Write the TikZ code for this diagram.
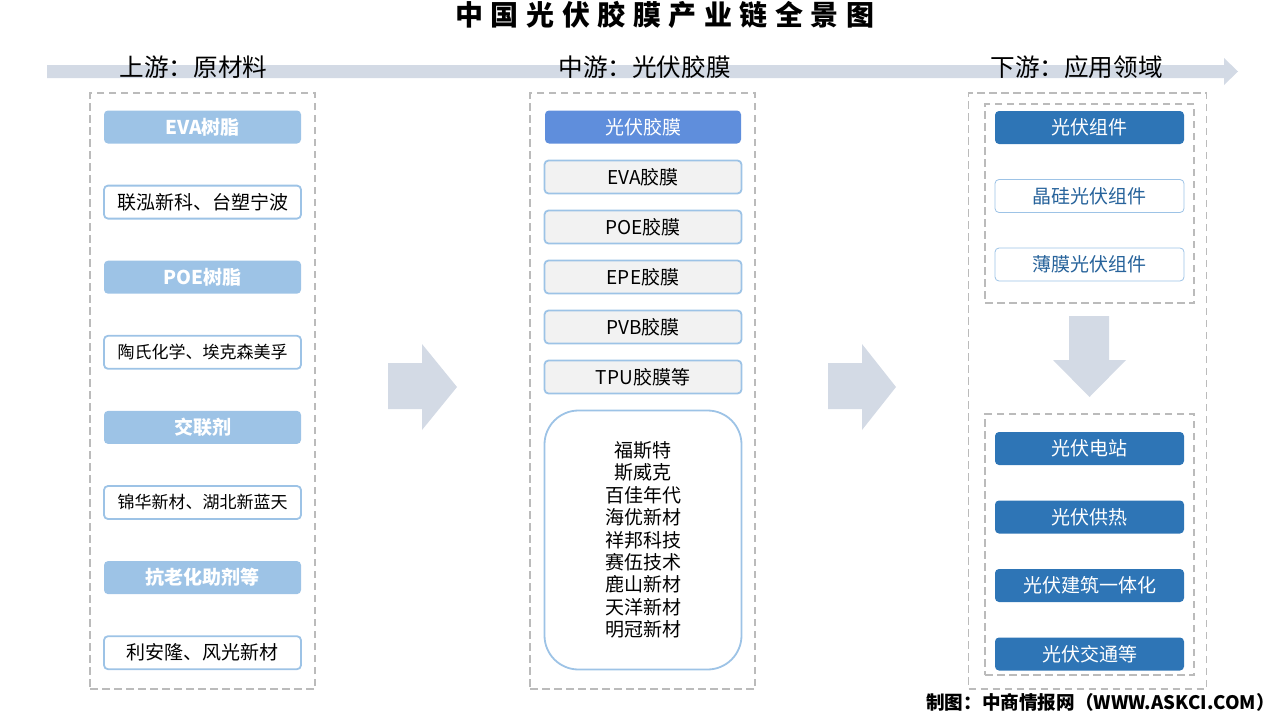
\documentclass[tikz,border=0pt]{standalone}
\usepackage{fontspec}
\setmainfont{Noto Sans CJK SC}
\newfontfamily\titlefont[LetterSpace=27]{Noto Sans CJK SC}
\usetikzlibrary{shapes,arrows,positioning}
\definecolor{BarGray}{HTML}{D3DAE5}
\definecolor{DashGray}{HTML}{BBBBBB}
\definecolor{LightBlue}{HTML}{9DC3E6}
\definecolor{MidBlue}{HTML}{5F8EDC}
\definecolor{DarkBlue}{HTML}{2E75B6}
\definecolor{SoftGray}{HTML}{F2F2F2}
\definecolor{EdgeBlue}{HTML}{9DC3E6}
\tikzstyle{Base} = [rectangle, rounded corners=4pt, inner sep=0pt, outer sep=0pt, font=\fontsize{19}{22.4}\selectfont]
\tikzstyle{Head} = [Base, fill=LightBlue, text=white, minimum width=197pt, minimum height=33pt, font=\fontsize{19}{22}\selectfont\bfseries]
\tikzstyle{Firm} = [Base, draw=EdgeBlue, line width=1.8pt, fill=white, minimum width=197pt, minimum height=33pt]
\tikzstyle{Film} = [Firm, fill=SoftGray]
\tikzstyle{Top}  = [Base, fill=MidBlue, text=white, minimum width=196pt, minimum height=33pt]
\tikzstyle{Use}  = [Base, fill=DarkBlue, text=white, minimum width=189pt, minimum height=33pt]
\tikzstyle{Kind} = [Base, draw=EdgeBlue, line width=.8pt, fill=white, text=DarkBlue!85!black, minimum width=189pt, minimum height=33pt]
\tikzstyle{Zone} = [rectangle, draw=DashGray, line width=1.4pt, dash pattern=on 7.5pt off 4.5pt, inner sep=0pt, outer sep=0pt]
\tikzstyle{Stage} = [inner sep=0pt, font=\fontsize{24.6}{28}\selectfont]

\begin{document}
\begin{tikzpicture}[x=1pt,y=-1pt]
    \useasboundingbox (0,0) rectangle (1280,720);
    % backdrop arrow
    \fill[BarGray] (47,65) -- (1224,65) -- (1224,58) -- (1238,71.5) -- (1224,85) -- (1224,78) -- (47,78) -- cycle;
    \node[font=\fontsize{28}{32}\selectfont\bfseries\titlefont, inner sep=0pt] (title) at (665,15) {中国光伏胶膜产业链全景图};
    \node[Stage] (upstage)   at (193.5,67.5) {上游^^^^ff1a原材料};
    \node[Stage] (midstage)  at (644.5,67.5) {中游^^^^ff1a光伏胶膜};
    \node[Stage] (downstage) at (1076.5,67.5) {下游^^^^ff1a应用领域};

    % dashed frames
    \node[Zone, minimum width=225pt, minimum height=596pt] (upzone)   at (202.5,391) {};
    \node[Zone, minimum width=225pt, minimum height=596pt] (midzone)  at (642.5,391) {};
    \node[Zone, minimum width=238pt, minimum height=596pt] (downzone) at (1087.5,391) {};
    \node[Zone, minimum width=209pt, minimum height=199pt] (modzone)  at (1089.5,203.5) {};
    \node[Zone, minimum width=209pt, minimum height=261pt] (sitezone) at (1089.5,544.5) {};

    % upstream
    \node[Head] (eva)       at (202.5,127)       {EVA树脂};
    \node[Firm] (evafirm)   [below=42.1pt of eva]     {联泓新科、台塑宁波};
    \node[Head] (poe)       [below=42.1pt of evafirm] {POE树脂};
    \node[Firm, font=\fontsize{17}{20}\selectfont] (poefirm)   [below=42.1pt of poe]     {陶氏化学、埃克森美孚};
    \node[Head] (cross)     [below=42.1pt of poefirm] {交联剂};
    \node[Firm, font=\fontsize{17}{20}\selectfont] (crossfirm) [below=42.1pt of cross]   {锦华新材、湖北新蓝天};
    \node[Head] (aging)     [below=42.1pt of crossfirm] {抗老化助剂等};
    \node[Firm] (agingfirm) [below=42.1pt of aging]   {利安隆、风光新材};

    % midstream
    \node[Top]  (film)  at (643,127)        {光伏胶膜};
    \node[Film] (evaf)  [below=17pt of film] {EVA胶膜};
    \node[Film] (poef)  [below=17pt of evaf] {POE胶膜};
    \node[Film] (epef)  [below=17pt of poef] {EPE胶膜};
    \node[Film] (pvbf)  [below=17pt of epef] {PVB胶膜};
    \node[Film] (tpuf)  [below=17pt of pvbf] {TPU胶膜等};
    \node[Firm, rounded corners=34pt, minimum height=259pt, align=center, font=\fontsize{19}{22.4}\selectfont] (makers) [below=17pt of tpuf]
        {福斯特\\斯威克\\百佳年代\\海优新材\\祥邦科技\\赛伍技术\\鹿山新材\\天洋新材\\明冠新材};

    % downstream
    \node[Use]  (module) at (1089.5,127.5)       {光伏组件};
    \node[Kind] (csi)    [below=35.5pt of module] {晶硅光伏组件};
    \node[Kind] (thin)   [below=35.5pt of csi]    {薄膜光伏组件};
    \node[Use]  (plant)  at (1089.5,448.5)       {光伏电站};
    \node[Use]  (heat)   [below=35.5pt of plant]  {光伏供热};
    \node[Use]  (bipv)   [below=35.5pt of heat]   {光伏建筑一体化};
    \node[Use]  (traffic) [below=35.5pt of bipv]  {光伏交通等};

    % block arrows
    \fill[BarGray] (388,363) -- (422,363) -- (422,344) -- (457,387) -- (422,430) -- (422,409) -- (388,409) -- cycle;
    \fill[BarGray] (828,363) -- (862,363) -- (862,344) -- (896,387) -- (862,430) -- (862,409) -- (828,409) -- cycle;
    \fill[BarGray] (1069,316) -- (1109,316) -- (1109,360) -- (1126,360) -- (1089.5,397) -- (1053,360) -- (1069,360) -- cycle;

    \node[font=\fontsize{18.6}{22}\selectfont\bfseries, inner sep=0pt] (source) at (1100.5,702) {制图^^^^ff1a中商情报网^^^^ff08WWW.ASKCI.COM^^^^ff09};
\end{tikzpicture}
\end{document}
